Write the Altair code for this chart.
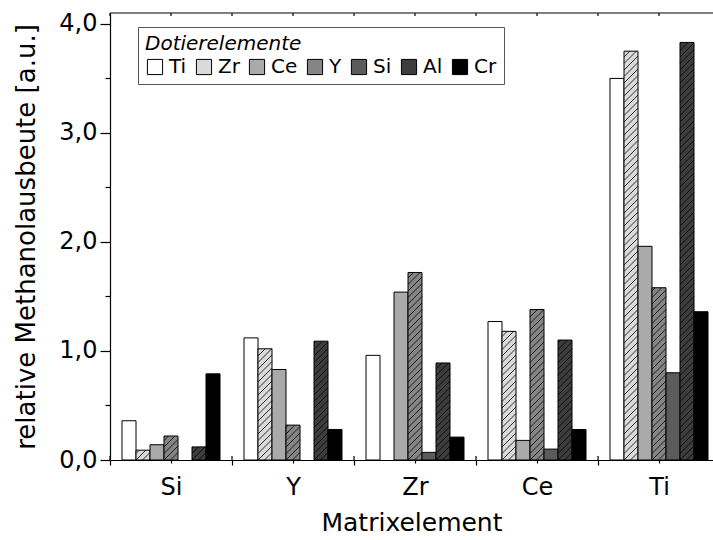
import math

import altair as alt
import pandas as pd

# Matrix elements (x groups) and dopant elements (bars within each group)
matrix = ["Si", "Y", "Zr", "Ce", "Ti"]
dopants = ["Ti", "Zr", "Ce", "Y", "Si", "Al", "Cr"]

# Relative methanol yield per dopant, one value per matrix element (None = not measured)
yield_ti = [0.36, 1.12, 0.96, 1.27, 3.50]
yield_zr = [0.09, 1.02, None, 1.18, 3.75]
yield_ce = [0.14, 0.83, 1.54, 0.18, 1.96]
yield_y = [0.22, 0.32, 1.72, 1.38, 1.58]
yield_si = [None, None, 0.07, 0.10, 0.80]
yield_al = [0.12, 1.09, 0.89, 1.10, 3.83]
yield_cr = [0.79, 0.28, 0.21, 0.28, 1.36]

y_ticks = [0, 0.5, 1, 1.5, 2, 2.5, 3, 3.5, 4]

series = {
    "Ti": yield_ti, "Zr": yield_zr, "Ce": yield_ce, "Y": yield_y,
    "Si": yield_si, "Al": yield_al, "Cr": yield_cr,
}
fills = ["#ffffff", "#dadada", "#aaaaaa", "#858585", "#5b5b5b", "#3d3d3d", "#000000"]
hatched = {"Zr", "Y", "Al"}

# Layout: each matrix group is one x unit wide; bars are dodged inside it
W, H = 603, 447
GROUP_PX = 122
X_MAX = W / GROUP_PX
Y_MAX = 4.1
BAR = 14 / GROUP_PX
PAD = 12 / GROUP_PX
PX_X = GROUP_PX
PX_Y = H / Y_MAX
HATCH_STEP = 6.5

bars, hatch = [], []
for g, m in enumerate(matrix):
    for i, d in enumerate(dopants):
        v = series[d][g]
        if v is None:
            continue
        x0 = g + PAD + i * BAR
        x1 = x0 + BAR
        bars.append({"matrix": m, "dopant": d, "x0": x0, "x1": x1, "value": v})
        if d in hatched:
            w = BAR * PX_X
            h = v * PX_Y
            k0 = -math.ceil(w / HATCH_STEP) - 1
            k1 = math.ceil(h / HATCH_STEP) + 1
            for k in range(k0, k1):
                c = k * HATCH_STEP
                t0 = max(0.0, -c)
                t1 = min(w, h - c)
                if t1 - t0 > 0.4:
                    hatch.append({
                        "hx0": x0 + t0 / PX_X, "hy0": (t0 + c) / PX_Y,
                        "hx1": x0 + t1 / PX_X, "hy1": (t1 + c) / PX_Y,
                    })

bars_df = pd.DataFrame(bars)
hatch_df = pd.DataFrame(hatch)
# group boundaries and group centres on the x axis
sep_df = pd.DataFrame({"pos": [float(g) for g in range(len(matrix))]})
top_df = pd.DataFrame({"pos": [g * 0.5 for g in range(2 * len(matrix))]})

FONT = "DejaVu Sans"
x_scale = alt.Scale(domain=[0, X_MAX], nice=False, zero=False)
y_scale = alt.Scale(domain=[0, Y_MAX], nice=False)

names_js = "[" + ",".join("'" + m + "'" for m in matrix) + "]"
x_axis = alt.Axis(
    values=[k * 0.5 for k in range(10)],
    labelExpr="datum.value % 1 ? " + names_js + "[floor(datum.value)] : ''",
    tickSize={"condition": {"test": "datum.value % 1 !== 0", "value": 3}, "value": 5},
    tickWidth=1.2, tickColor="black", grid=False, labelOverlap=False, labelFlush=False,
    labelFontSize=24, labelFont=FONT, labelPadding=12, labelColor="black",
    titleFontSize=25, titleFont=FONT, titleFontWeight="normal", titlePadding=9, titleColor="black",
    domainColor="black", domainWidth=1.2,
)
y_axis = alt.Axis(
    values=y_ticks,
    labelExpr="datum.value % 1 ? '' : replace(format(datum.value, '.1f'), '.', ',')",
    tickSize={"condition": {"test": "datum.value % 1 !== 0", "value": 5}, "value": 10},
    tickWidth=1.2, tickColor="black", grid=False, labelOverlap=False, labelFlush=False,
    labelFontSize=24, labelFont=FONT, labelPadding=3, labelColor="black",
    titleFontSize=26, titleFont=FONT, titleFontWeight="normal", titlePadding=19, titleColor="black",
    domainColor="black", domainWidth=1.2,
)
X_TITLE = "Matrixelement"
Y_TITLE = "relative Methanolausbeute [a.u.]"


def xenc(field):
    return alt.X(field, type="quantitative", scale=x_scale, axis=x_axis, title=X_TITLE)


def yenc(field):
    return alt.Y(field, type="quantitative", scale=y_scale, axis=y_axis, title=Y_TITLE)


bar_layer = alt.Chart(bars_df).mark_bar(stroke="black", strokeWidth=1, opacity=1).encode(
    x=xenc("x0"),
    x2="x1:Q",
    y=yenc("value"),
    y2=alt.datum(0),
    fill=alt.Fill(
        "dopant:N",
        scale=alt.Scale(domain=dopants, range=fills),
        legend=alt.Legend(
            title="Dotierelemente", orient="none", legendX=28, legendY=14,
            direction="horizontal", columns=7, symbolType="square", symbolSize=230,
            symbolStrokeColor="black", symbolStrokeWidth=1, symbolOpacity=1,
            labelFontSize=20, labelFont=FONT, labelColor="black", labelOffset=4,
            titleFontSize=20, titleFont=FONT, titleFontStyle="italic",
            titleFontWeight="normal", titleColor="black", titlePadding=3,
            strokeColor="#555555", fillColor="white", padding=7, columnPadding=7,
        ),
    ),
)

hatch_layer = alt.Chart(hatch_df).mark_rule(color="black", strokeWidth=0.8).encode(
    x=xenc("hx0"),
    x2="hx1:Q",
    y=yenc("hy0"),
    y2="hy1:Q",
)

# inner half of the group-boundary ticks on the bottom axis
sep_ticks = alt.Chart(sep_df).mark_rule(color="black", strokeWidth=1.2).encode(
    x=xenc("pos"), y=alt.value(H), y2=alt.value(H - 4)
)

top_frame = alt.Chart(alt.Data(values=[{}])).mark_rule(color="black", strokeWidth=1.2).encode(
    y=alt.value(0)
)
top_ticks = alt.Chart(top_df).mark_rule(color="black", strokeWidth=1.2).encode(
    x=xenc("pos"), y=alt.value(0), y2=alt.value(3)
)

chart = (
    alt.layer(bar_layer, hatch_layer, sep_ticks, top_frame, top_ticks)
    .properties(
        width=W, height=H,
        padding={"left": 110, "top": 13, "right": 0, "bottom": 80},
        autosize=alt.AutoSizeParams(type="none"),
        background="white",
    )
    .configure_view(stroke="transparent")
)

chart.save("out.html", embed_options={"renderer": "svg", "actions": False})
